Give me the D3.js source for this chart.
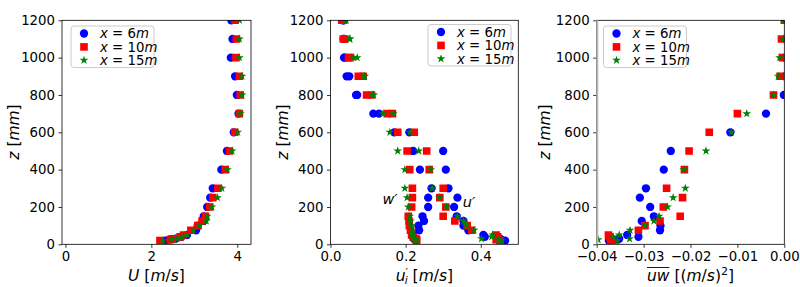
<!DOCTYPE html>
<html>
<head>
<meta charset="utf-8">
<script src="https://cdn.jsdelivr.net/npm/d3@7"></script>
<style>
  body { margin: 0; background: #fff; }
  text { font-family: "DejaVu Sans", sans-serif; }
</style>
</head>
<body>
<svg id="fig" width="800" height="287"></svg>
<script>
// heights of the measuring points, mm
const zLevels = [20, 25, 30, 40, 50, 75, 100, 125, 150, 200, 250, 300, 400, 500, 600, 700, 800, 900, 1000, 1100, 1200];
const stations = ["6", "10", "15"];

// mean velocity U [m/s]
const U6  = [2.32, 2.42, 2.56, 2.70, 2.83, 3.04, 3.08, 3.22, 3.22, 3.30, 3.37, 3.43, 3.63, 3.76, 3.92, 4.03, 3.99, 3.95, 3.85, 3.89, 3.86];
const U10 = [2.20, 2.44, 2.49, 2.67, 2.75, 2.92, 3.08, 3.18, 3.26, 3.36, 3.43, 3.55, 3.72, 3.82, 3.94, 4.05, 4.07, 4.05, 3.97, 3.98, 3.95];
const U15 = [2.27, 2.48, 2.60, 2.71, 2.84, 2.98, 3.12, 3.28, 3.30, 3.41, 3.54, 3.64, 3.77, 3.88, 4.01, 4.07, 4.11, 4.11, 4.05, 4.05, 4.05];

// fluctuations w' and u' [m/s]
const w6  = [0.227, 0.226, 0.222, 0.220, 0.220, 0.236, 0.234, 0.249, 0.245, 0.260, 0.260, 0.269, 0.238, 0.220, 0.170, 0.114, 0.068, 0.043, 0.036, 0.035, 0.033];
const u6  = [0.465, 0.455, 0.451, 0.411, 0.407, 0.367, 0.354, 0.354, 0.336, 0.329, 0.338, 0.314, 0.307, 0.300, 0.210, 0.129, 0.071, 0.050, 0.038, 0.036, 0.035];
const w10 = [0.229, 0.229, 0.227, 0.220, 0.216, 0.213, 0.210, 0.209, 0.207, 0.216, 0.218, 0.218, 0.211, 0.204, 0.179, 0.151, 0.096, 0.074, 0.048, 0.034, 0.030];
const u10 = [0.451, 0.441, 0.443, 0.445, 0.441, 0.376, 0.364, 0.331, 0.300, 0.307, 0.291, 0.300, 0.263, 0.256, 0.223, 0.165, 0.109, 0.087, 0.052, 0.038, 0.034];
const w15 = [0.229, 0.226, 0.222, 0.220, 0.218, 0.218, 0.216, 0.213, 0.211, 0.207, 0.204, 0.198, 0.198, 0.179, 0.158, 0.140, 0.112, 0.088, 0.062, 0.050, 0.040];
const u15 = [0.455, 0.447, 0.402, 0.429, 0.432, 0.382, 0.362, 0.354, 0.338, 0.309, 0.290, 0.271, 0.267, 0.235, 0.212, 0.167, 0.115, 0.091, 0.071, 0.052, 0.042];

// Reynolds stress uw [(m/s)^2]
const uw6  = [-0.0374, -0.0356, -0.0352, -0.0311, -0.0335, -0.0265, -0.0264, -0.0304, -0.0278, -0.0286, -0.0308, -0.0295, -0.0257, -0.0242, -0.0115, -0.0039, -0.0001, 0.0001, 0.0001, 0.0003, 0.0003];
const uw10 = [-0.0368, -0.0370, -0.0370, -0.0372, -0.0375, -0.0311, -0.0297, -0.0265, -0.0222, -0.0258, -0.0217, -0.0251, -0.0213, -0.0203, -0.0160, -0.0100, -0.0023, -0.0009, -0.0004, -0.0006, 0.0000];
const uw15 = [-0.0356, -0.0397, -0.0330, -0.0365, -0.0352, -0.0329, -0.0297, -0.0278, -0.0267, -0.0249, -0.0237, -0.0211, -0.0214, -0.0167, -0.0113, -0.0080, -0.0023, -0.0013, -0.0010, -0.0002, 0.0000];

const yTicks = [0, 200, 400, 600, 800, 1000, 1200];
const xTicks1 = [0, 2, 4];
const xTicks2 = [0.0, 0.2, 0.4];
const xTicks3 = [-0.04, -0.03, -0.02, -0.01, 0.00];

const colors = ["#0000ff", "#ff0000", "#008000"];
const shapes = [d3.symbolCircle, d3.symbolSquare, d3.symbolStar];
const sizes = [54, 58, 24];

const svg = d3.select("#fig");
const yTop = 20.3, yBottom = 244.3;
const y = d3.scaleLinear().domain([0, 1200]).range([yBottom, yTop]);

function panel(id, left, right, xDomain, ticks, fmt) {
  const x = d3.scaleLinear().domain(xDomain).range([left, right]);
  const g = svg.append("g");

  svg.append("clipPath").attr("id", "clip" + id)
    .append("rect").attr("x", left).attr("y", yTop)
    .attr("width", right - left).attr("height", yBottom - yTop);

  const yAxis = g.append("g").attr("transform", `translate(${left},0)`)
    .call(d3.axisLeft(y).tickValues(yTicks).tickFormat(d3.format("d"))
      .tickSize(3.5).tickPadding(3.5).tickSizeOuter(0));
  const xAxis = g.append("g").attr("transform", `translate(0,${yBottom})`)
    .call(d3.axisBottom(x).tickValues(ticks).tickFormat(fmt).tickSize(3.5).tickPadding(3.5).tickSizeOuter(0));
  for (const a of [xAxis, yAxis]) {
    a.select(".domain").remove();
    a.selectAll("line").attr("stroke", "#000").attr("stroke-width", 0.8);
    a.selectAll("text").attr("font-size", 13.3).attr("fill", "#000")
      .attr("font-family", "DejaVu Sans");
  }

  const marks = g.append("g").attr("clip-path", `url(#clip${id})`);
  return { x, g, marks };
}

function drawSeries(p, values, k) {
  p.marks.append("g").selectAll("path")
    .data(values.map((v, i) => [v, zLevels[i]]))
    .join("path")
    .attr("transform", d => `translate(${p.x(d[0])},${y(d[1])})`)
    .attr("d", d3.symbol().type(shapes[k]).size(sizes[k]))
    .attr("fill", colors[k]);
}

function frame(p, left, right, leftColor) {
  p.g.append("rect").attr("x", left).attr("y", yTop)
    .attr("width", right - left).attr("height", yBottom - yTop)
    .attr("fill", "none").attr("stroke", "#000").attr("stroke-width", 0.8);
  if (leftColor) {
    p.g.append("line").attr("x1", left + 0.6).attr("x2", left + 0.6)
      .attr("y1", yTop).attr("y2", yBottom)
      .attr("stroke", leftColor).attr("stroke-width", 2);
  }
}

function legend(bx, by) {
  const lg = svg.append("g").attr("transform", `translate(${bx},${by})`);
  lg.append("rect").attr("width", 83).attr("height", 41.5).attr("rx", 3)
    .attr("fill", "#fff").attr("fill-opacity", 0.8)
    .attr("stroke", "#ccc").attr("stroke-width", 1);
  stations.forEach((s, k) => {
    const cy = 7.5 + k * 13.4;
    lg.append("path").attr("transform", `translate(13,${cy})`)
      .attr("d", d3.symbol().type(shapes[k]).size(sizes[k]))
      .attr("fill", colors[k]);
    const t = lg.append("text").attr("x", 29).attr("y", cy + 4.8).attr("font-size", 13.3);
    t.append("tspan").attr("font-style", "italic").text("x");
    t.append("tspan").text(" = " + s);
    t.append("tspan").attr("font-style", "italic").text("m");
  });
}

function yLabel(cx) {
  const t = svg.append("text")
    .attr("transform", `translate(${cx},132) rotate(-90)`)
    .attr("text-anchor", "middle").attr("font-size", 15.5);
  t.append("tspan").attr("font-style", "italic").text("z");
  t.append("tspan").text(" [");
  t.append("tspan").attr("font-style", "italic").text("mm");
  t.append("tspan").text("]");
}

// panel 1: U
const p1 = panel(1, 62, 251, [-0.08, 4.32], xTicks1, d3.format("d"));
[U6, U10, U15].forEach((v, k) => drawSeries(p1, v, k));
frame(p1, 62, 251);
legend(71, 26);
yLabel(18.5);
{
  const t = svg.append("text").attr("x", 156.5).attr("y", 280.5)
    .attr("text-anchor", "middle").attr("font-size", 15.5);
  t.append("tspan").attr("font-style", "italic").text("U");
  t.append("tspan").text(" [");
  t.append("tspan").attr("font-style", "italic").text("m");
  t.append("tspan").text("/");
  t.append("tspan").attr("font-style", "italic").text("s");
  t.append("tspan").text("]");
}

// panel 2: u', w'
const p2 = panel(2, 330.5, 518.3, [0, 0.5], xTicks2, d3.format(".1f"));
[0, 1, 2].forEach(k => {
  drawSeries(p2, [w6, w10, w15][k], k);
  drawSeries(p2, [u6, u10, u15][k], k);
});
frame(p2, 330.5, 518.3);
legend(428, 24.5);
yLabel(288);
svg.append("text").attr("x", 390).attr("y", 203.5).attr("text-anchor", "middle")
  .attr("font-size", 14.5).attr("font-style", "italic").text("w\u2032");
svg.append("text").attr("x", 469).attr("y", 207).attr("text-anchor", "middle")
  .attr("font-size", 14.5).attr("font-style", "italic").text("u\u2032");
{
  const t = svg.append("text").attr("x", 424.4).attr("y", 280.5)
    .attr("text-anchor", "middle").attr("font-size", 15.5);
  t.append("tspan").attr("font-style", "italic").text("u");
  t.append("tspan").attr("font-size", 11).attr("dy", -5).text("\u2032");
  t.append("tspan").attr("font-size", 10.5).attr("font-style", "italic").attr("dx", -3.2).attr("dy", 8.5).text("i");
  t.append("tspan").attr("dy", -3.5).text(" [");
  t.append("tspan").attr("font-style", "italic").text("m");
  t.append("tspan").text("/");
  t.append("tspan").attr("font-style", "italic").text("s");
  t.append("tspan").text("]");
}

// panel 3: uw
const p3 = panel(3, 596.7, 784.3, [-0.04, 0], xTicks3, d => d3.format(".2f")(d).replace("-", "\u2212"));
[uw6, uw10, uw15].forEach((v, k) => drawSeries(p3, v, k));
frame(p3, 596.7, 784.3, "#b8b8b8");
legend(603.5, 26);
yLabel(549.5);
{
  const t = svg.append("text").attr("x", 690.5).attr("y", 280.5)
    .attr("text-anchor", "middle").attr("font-size", 15.5);
  t.append("tspan").attr("font-style", "italic").text("uw");
  t.append("tspan").text(" [(");
  t.append("tspan").attr("font-style", "italic").text("m");
  t.append("tspan").text("/");
  t.append("tspan").attr("font-style", "italic").text("s");
  t.append("tspan").text(")");
  t.append("tspan").attr("font-size", 11).attr("dy", -6).text("2");
  t.append("tspan").attr("dy", 6).text("]");
  // bar over uw
  const node = t.node();
  const s = node.getStartPositionOfChar(0), e = node.getEndPositionOfChar(1);
  svg.append("line").attr("x1", s.x).attr("x2", e.x)
    .attr("y1", 280.5 - 13).attr("y2", 280.5 - 13)
    .attr("stroke", "#000").attr("stroke-width", 0.9);
}
</script>
</body>
</html>
